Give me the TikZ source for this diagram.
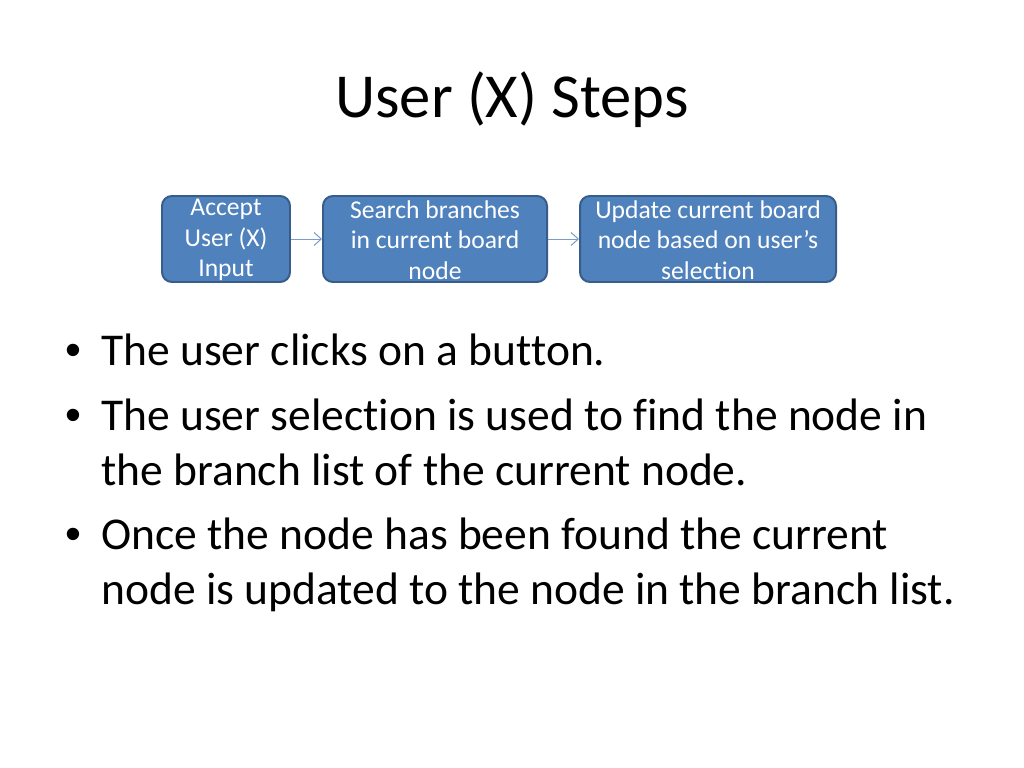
\documentclass[tikz,border=0pt]{standalone}
\usepackage{fontspec}
\setmainfont{Carlito}[Ligatures=NoCommon]
\newfontfamily\bulletfont{Liberation Sans}
\usetikzlibrary{arrows.meta}
\definecolor{boxfill}{HTML}{4F81BD}
\definecolor{boxline}{HTML}{385D8A}
\definecolor{arrowc}{HTML}{7A9CC8}
\tikzset{
  stepbox/.style={draw=boxline, line width=1.4pt, fill=boxfill, rounded corners=7pt},
  boxtext/.style={text=white, font=\fontsize{18}{21.6}\selectfont, align=center, inner sep=0pt},
  flow/.style={draw=arrowc, line width=0.7pt, -{Straight Barb[length=5pt,width=9pt]}},
  bullettext/.style={anchor=base west, inner sep=0pt, font=\fontsize{32}{38}\selectfont},
  dot/.style={anchor=base, inner sep=0pt, font=\bulletfont\fontsize{32}{38}\selectfont}
}
\begin{document}
\begin{tikzpicture}[x=0.703125pt, y=-0.703125pt]
\useasboundingbox (0,0) rectangle (1024,768);
\fill[white] (0,0) rectangle (1024,768);
% title
\node[anchor=base, inner sep=0pt, font=\fontsize{44}{52}\selectfont] (title) at (512,118) {User (X) Steps};
% boxes
\path[stepbox] (162,196) rectangle (290,282);
\path[stepbox] (323,196) rectangle (547,282);
\path[stepbox] (580,196) rectangle (836,282);
\node[boxtext] (b1) at (226,240) {Accept\\User (X)\\Input};
\node[boxtext] (b2) at (435,240) {Search branches\\in current board\\node};
\node[boxtext] (b3) at (708,240) {Update current board\\node based on user’s\\selection};
\coordinate (b1e) at (291,239);
\coordinate (b2w) at (322,239);
\coordinate (b2e) at (548,239);
\coordinate (b3w) at (579,239);
\draw[flow] (b1e) -- (b2w);
\draw[flow] (b2e) -- (b3w);
% bullets
\node[dot] (d1) at (73,365) {•};
\node[bullettext] (l1) at (101,365) {The user clicks on a button.};
\node[dot] (d2) at (73,430) {•};
\node[bullettext] (l2) at (101,430) {The user selection is used to find the node in};
\node[bullettext] (l3) at (101,485) {the branch list of the current node.};
\node[dot] (d3) at (73,549) {•};
\node[bullettext] (l4) at (101,549) {Once the node has been found the current};
\node[bullettext] (l5) at (101,604) {node is updated to the node in the branch list.};
\end{tikzpicture}
\end{document}
